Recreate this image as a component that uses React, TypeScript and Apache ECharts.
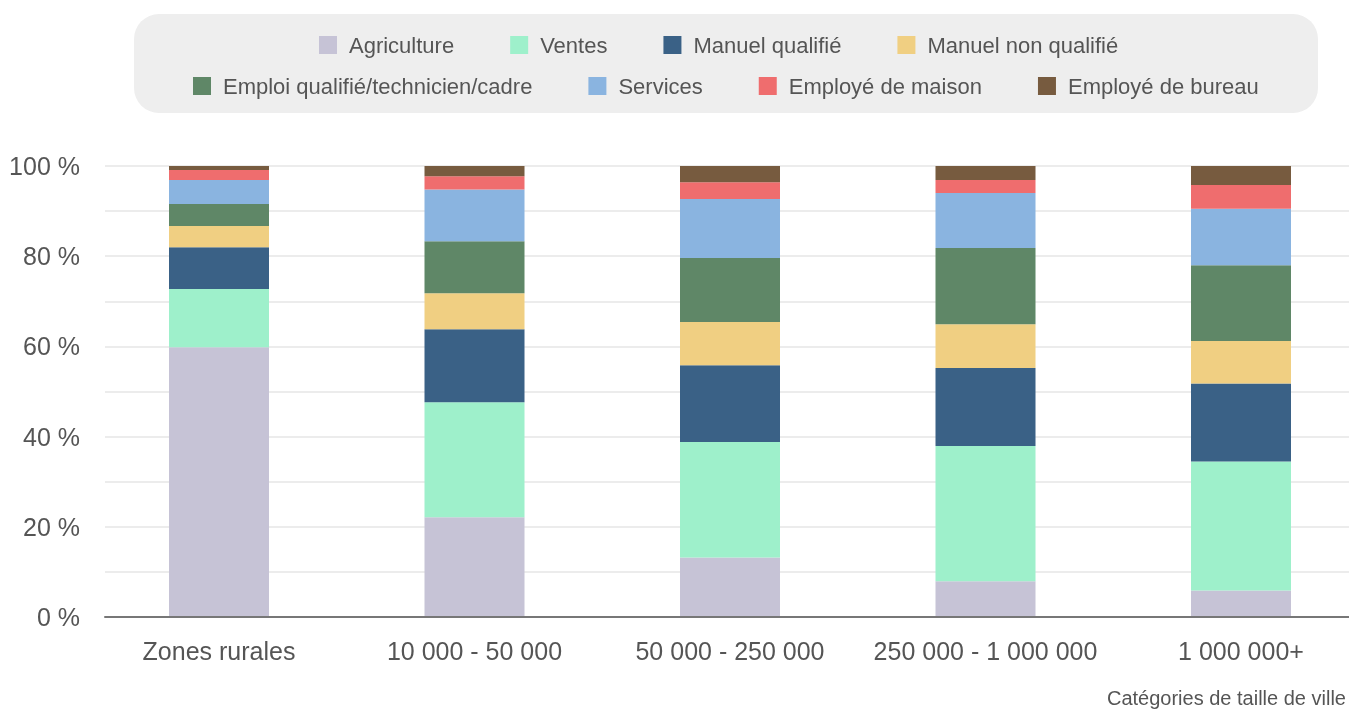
import React, { useEffect, useRef } from "react";
import * as echarts from "echarts";

const categories = ["Zones rurales", "10 000 - 50 000", "50 000 - 250 000", "250 000 - 1 000 000", "1 000 000+"];
const seriesNames = [
  "Agriculture",
  "Ventes",
  "Manuel qualifié",
  "Manuel non qualifié",
  "Emploi qualifié/technicien/cadre",
  "Services",
  "Employé de maison",
  "Employé de bureau",
];
const agriculture = [59.8, 22.1, 13.2, 7.9, 5.9];
const ventes = [12.9, 25.5, 25.6, 30.0, 28.6];
const manuelQualifie = [9.3, 16.2, 17.0, 17.3, 17.3];
const manuelNonQualifie = [4.7, 8.0, 9.6, 9.7, 9.4];
const emploiQualifie = [4.9, 11.5, 14.2, 16.9, 16.8];
const services = [5.3, 11.5, 13.1, 12.2, 12.5];
const employeMaison = [2.2, 2.9, 3.7, 2.9, 5.3];
const employeBureau = [0.9, 2.3, 3.6, 3.1, 4.2];
const colors = ["#c6c3d6", "#9ef0cb", "#3a6186", "#f0cf82", "#5f8767", "#8ab4e0", "#ef6d6e", "#775b3f"];
const axisTitle = "Catégories de taille de ville";

const FONT = "'Liberation Sans', Arial, sans-serif";

export default function App() {
  const ref = useRef<HTMLDivElement>(null);
  useEffect(() => {
    if (!ref.current) return;
    const chart = echarts.init(ref.current, undefined, { renderer: "svg" });
    const values = [agriculture, ventes, manuelQualifie, manuelNonQualifie, emploiQualifie, services, employeMaison, employeBureau];
    const legendCommon = {
      itemWidth: 18,
      itemHeight: 18,
      itemGap: 56,
      icon: "rect",
      selectedMode: false,
      textStyle: { fontFamily: FONT, fontSize: 22, color: "#555555", padding: [0, 0, 0, 7] },
    };
    chart.setOption({
      animation: false,
      color: colors,
      graphic: [
        {
          type: "rect",
          shape: { x: 134, y: 14, width: 1184, height: 99, r: 25 },
          style: { fill: "#eeeeee" },
          z: -10,
        },
        {
          type: "text",
          x: 1346,
          y: 698,
          style: {
            text: axisTitle,
            font: `20px ${FONT}`,
            fill: "#555555",
            textAlign: "right",
            textVerticalAlign: "middle",
          },
        },
      ],
      legend: [
        { ...legendCommon, left: 314, top: 29, data: seriesNames.slice(0, 4) },
        { ...legendCommon, left: 188, top: 70, data: seriesNames.slice(4) },
      ],
      grid: [
        { left: 91.25, width: 1277.5, top: 166, bottom: 93, containLabel: false },
        { left: 105, right: 0, top: 166, bottom: 93, containLabel: false },
      ],
      xAxis: [
        {
          type: "category",
          gridIndex: 0,
          data: categories,
          axisTick: { show: false },
          axisLine: { show: false },
          axisLabel: { fontFamily: FONT, fontSize: 25, color: "#555555", margin: 21, interval: 0 },
          z: 5,
        },
        {
          type: "value",
          gridIndex: 1,
          min: 0,
          max: 1,
          axisTick: { show: false },
          axisLabel: { show: false },
          splitLine: { show: false },
          axisLine: { show: true, lineStyle: { color: "#777777", width: 2 } },
          z: 6,
        },
      ],
      yAxis: [
        {
          type: "value",
          gridIndex: 0,
          min: 0,
          max: 100,
          interval: 10,
          axisLine: { show: false },
          axisTick: { show: false },
          splitLine: { show: false },
          axisLabel: { show: false },
        },
        {
          type: "value",
          gridIndex: 1,
          min: 0,
          max: 100,
          interval: 10,
          axisLine: { show: false },
          axisTick: { show: false },
          splitLine: { lineStyle: { color: "#e6e6e6", width: 1.5 } },
          axisLabel: {
            fontFamily: FONT,
            fontSize: 25,
            color: "#555555",
            margin: 25,
            formatter: (v: number) => (v % 20 === 0 ? `${v} %` : ""),
          },
        },
      ],
      series: seriesNames.map((name, i) => ({
        name,
        type: "bar",
        stack: "total",
        barWidth: 100,
        xAxisIndex: 0,
        yAxisIndex: 0,
        data: values[i],
        itemStyle: { color: colors[i] },
      })),
    });
    return () => chart.dispose();
  }, []);
  return (
    <div style={{ position: "fixed", left: 0, top: 0, width: 1349, height: 710, overflow: "hidden" }}>
      <div ref={ref} style={{ position: "absolute", left: 0, top: 0, width: 1370, height: 710 }} />
    </div>
  );
}
